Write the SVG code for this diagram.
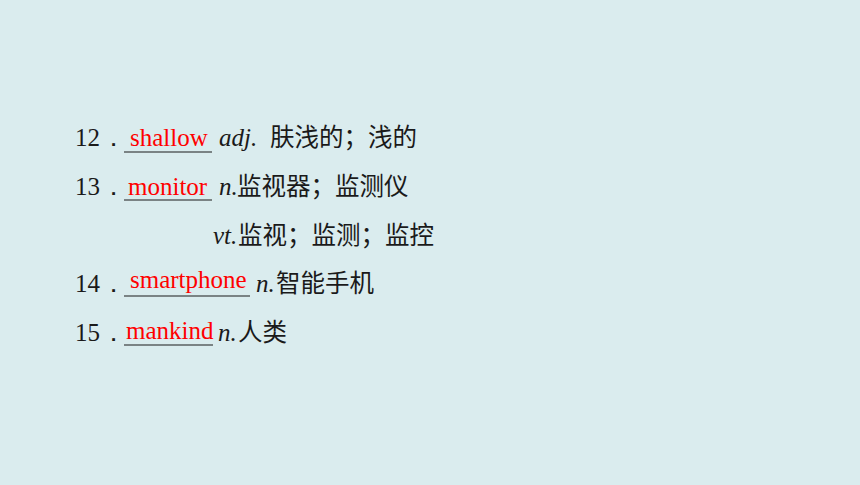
<svg xmlns="http://www.w3.org/2000/svg" width="860" height="485" viewBox="0 0 860 485">
<style>
.num{font-family:"Liberation Serif",serif;font-size:25px;fill:#1a1a1a}
.ans{font-family:"Liberation Serif",serif;font-size:25px;fill:#ff0000}
.pos{font-family:"Liberation Serif",serif;font-size:25px;font-style:italic;fill:#1a1a1a}
.zh{font-family:"Noto Sans CJK SC","Noto Sans",sans-serif;font-size:24.5px;fill:#1a1a1a}
.ul{stroke:#1a1a1a;stroke-width:1.2}
</style>
<rect width="860" height="485" fill="#DAECEE"/>
<g id="item12">
<text class="num" x="75" y="146">12</text>
<text class="num" x="101" y="146">．</text>
<line class="ul" x1="124" y1="152" x2="212" y2="152"/>
<text class="ans" x="130" y="146">shallow</text>
<text class="pos" x="219" y="146">adj.</text>
<text class="zh" x="270" y="146">肤浅的；浅的</text>
</g>
<g id="item13">
<text class="num" x="75" y="195">13</text>
<text class="num" x="101" y="195">．</text>
<line class="ul" x1="124" y1="200" x2="212" y2="200"/>
<text class="ans" x="128" y="195">monitor</text>
<text class="pos" x="219" y="195">n.</text>
<text class="zh" x="237" y="195">监视器；监测仪</text>
<text class="pos" x="213" y="244">vt.</text>
<text class="zh" x="238" y="244">监视；监测；监控</text>
</g>
<g id="item14">
<text class="num" x="75" y="292">14</text>
<text class="num" x="101" y="292">．</text>
<line class="ul" x1="124" y1="296" x2="250" y2="296"/>
<text class="ans" x="130" y="288">smartphone</text>
<text class="pos" x="256" y="292">n.</text>
<text class="zh" x="276" y="292">智能手机</text>
</g>
<g id="item15">
<text class="num" x="75" y="341">15</text>
<text class="num" x="101" y="341">．</text>
<line class="ul" x1="124" y1="345" x2="213" y2="345"/>
<text class="ans" x="126" y="339">mankind</text>
<text class="pos" x="218" y="341">n.</text>
<text class="zh" x="238" y="341">人类</text>
</g>
</svg>
